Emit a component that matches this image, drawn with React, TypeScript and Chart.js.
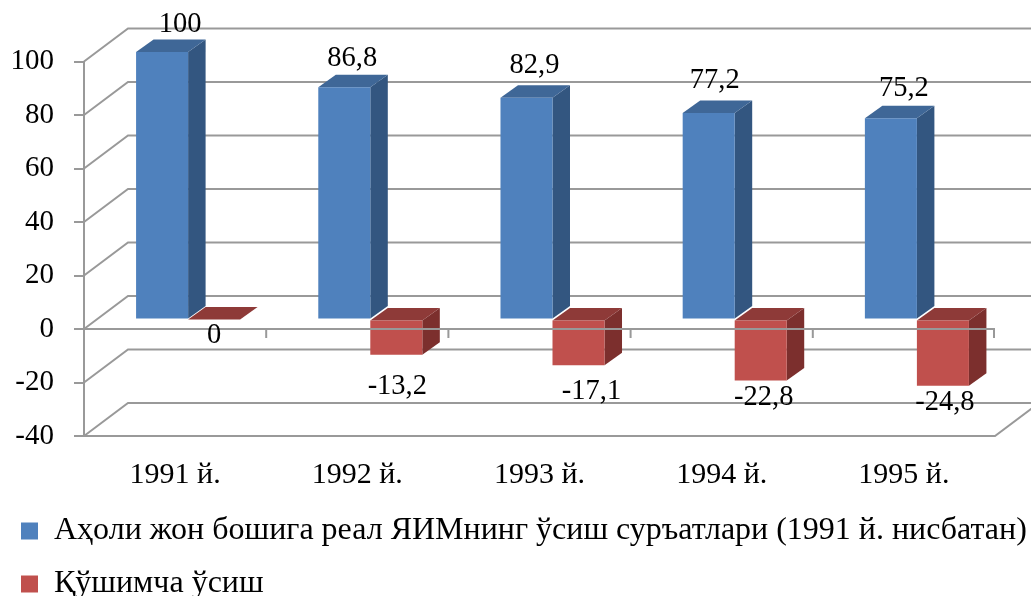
import React, { useEffect, useRef } from "react";
import { Chart, registerables } from "chart.js";

Chart.register(...registerables);

const categories = ["1991 й.", "1992 й.", "1993 й.", "1994 й.", "1995 й."];
const growthRates = [100, 86.8, 82.9, 77.2, 75.2];
const extraGrowth = [0, -13.2, -17.1, -22.8, -24.8];
const seriesNames = [
  "Аҳоли жон бошига реал ЯИМнинг ўсиш суръатлари (1991 й. нисбатан)",
  "Қўшимча ўсиш",
];
const growthLabelShift = [
  [18, -27],
  [8, -29],
  [8, -32],
  [6, -32],
  [13, -29.5],
];
const extraLabelShift = [
  [0, 16],
  [1, 32],
  [13, 26],
  [3, 17],
  [2, 17],
];

const FONT = "'Liberation Serif', serif";
const GRID = "#999999";
const PLANE_X = 13;
const PLANE_Y = -9.5;
const BAR_DX = 17.5;
const BAR_DY = -12.5;
const WALL_DX = 44;
const WALL_DY = -33;
const faces = [
  { side: "#335680", top: "#3f6797" },
  { side: "#7c2f2d", top: "#8e3a38" },
];

const wallPlugin = {
  id: "wall",
  beforeDatasetsDraw(chart: any) {
    const { ctx, chartArea, scales } = chart;
    ctx.save();
    ctx.strokeStyle = GRID;
    ctx.lineWidth = 2;
    scales.y.ticks.forEach((t: any) => {
      const y = scales.y.getPixelForValue(t.value);
      ctx.beginPath();
      ctx.moveTo(chartArea.left, y);
      ctx.lineTo(chartArea.left + WALL_DX, y + WALL_DY);
      ctx.lineTo(chartArea.right + WALL_DX, y + WALL_DY);
      ctx.stroke();
    });
    const b = chartArea.bottom;
    ctx.beginPath();
    ctx.moveTo(chartArea.left, b);
    ctx.lineTo(chartArea.right, b);
    ctx.lineTo(chartArea.right + WALL_DX, b + WALL_DY);
    ctx.stroke();
    ctx.restore();
  },
  beforeDatasetDraw(chart: any, args: any) {
    const { ctx } = chart;
    ctx.save();
    ctx.translate(PLANE_X, PLANE_Y);
    const f = faces[args.index];
    args.meta.data.forEach((bar: any) => {
      const l = bar.x - bar.width / 2;
      const r = bar.x + bar.width / 2;
      const t = Math.min(bar.y, bar.base);
      const u = Math.max(bar.y, bar.base);
      ctx.fillStyle = f.side;
      ctx.beginPath();
      ctx.moveTo(r, t);
      ctx.lineTo(r + BAR_DX, t + BAR_DY);
      ctx.lineTo(r + BAR_DX, u + BAR_DY);
      ctx.lineTo(r, u);
      ctx.closePath();
      ctx.fill();
      ctx.fillStyle = f.top;
      ctx.beginPath();
      ctx.moveTo(l, t);
      ctx.lineTo(l + BAR_DX, t + BAR_DY);
      ctx.lineTo(r + BAR_DX, t + BAR_DY);
      ctx.lineTo(r, t);
      ctx.closePath();
      ctx.fill();
    });
  },
  afterDatasetDraw(chart: any) {
    chart.ctx.restore();
  },
  afterDatasetsDraw(chart: any) {
    const { ctx, chartArea, scales } = chart;
    const zero = scales.y.getPixelForValue(0);
    ctx.save();
    ctx.strokeStyle = GRID;
    ctx.lineWidth = 2;
    ctx.beginPath();
    ctx.moveTo(chartArea.left, zero);
    ctx.lineTo(chartArea.right, zero);
    const step = chartArea.width / categories.length;
    for (let i = 0; i <= categories.length; i++) {
      const x = chartArea.left + i * step - (i === categories.length ? 1 : 0);
      ctx.moveTo(x, zero);
      ctx.lineTo(x, zero + 9);
    }
    ctx.stroke();

    ctx.fillStyle = "#000";
    ctx.font = `28.5px ${FONT}`;
    ctx.textAlign = "center";
    ctx.textBaseline = "middle";
    const text = (v: number) => String(v).replace(".", ",");
    chart.getDatasetMeta(0).data.forEach((bar: any, i: number) => {
      const [dx, dy] = growthLabelShift[i];
      ctx.fillText(text(growthRates[i]), bar.x + PLANE_X + dx, bar.y + PLANE_Y + dy);
    });
    chart.getDatasetMeta(1).data.forEach((bar: any, i: number) => {
      const [dx, dy] = extraLabelShift[i];
      ctx.fillText(text(extraGrowth[i]), bar.x + PLANE_X + dx, bar.y + PLANE_Y + dy);
    });
    ctx.restore();
  },
};

export default function App() {
  const ref = useRef<HTMLCanvasElement>(null);
  useEffect(() => {
    const chart = new Chart(ref.current as HTMLCanvasElement, {
      type: "bar",
      data: {
        labels: categories,
        datasets: [
          { label: seriesNames[0], data: growthRates, backgroundColor: "#4f81bd", borderWidth: 0, clip: false },
          { label: seriesNames[1], data: extraGrowth, backgroundColor: "#c0504d", borderWidth: 0, clip: false },
        ] as any,
      },
      options: {
        responsive: false,
        animation: false,
        categoryPercentage: 0.571,
        barPercentage: 1,
        layout: { padding: { top: 61.5, right: 0, bottom: -14, left: 0 } },
        plugins: {
          tooltip: { enabled: false },
          legend: {
            position: "bottom",
            align: "start",
            labels: {
              boxWidth: 17,
              boxHeight: 17,
              padding: 21,
              color: "#000",
              font: { family: FONT, size: 32 },
            },
          },
        },
        scales: {
          x: {
            afterFit: (s: any) => {
              s.height = 58;
            },
            grid: { display: false },
            border: { display: false },
            ticks: {
              color: "#000",
              padding: 13,
              maxRotation: 0,
              font: { family: FONT, size: 30 },
            },
          },
          y: {
            min: -40,
            max: 100,
            afterFit: (s: any) => {
              s.width = 84;
            },
            grid: { drawOnChartArea: false, color: GRID, lineWidth: 2, tickLength: 10 },
            border: { color: GRID, width: 2 },
            ticks: {
              stepSize: 20,
              color: "#000",
              padding: 20,
              font: { family: FONT, size: 29 },
            },
          },
          rightGap: {
            position: "right",
            min: -40,
            max: 100,
            afterFit: (s: any) => {
              s.width = 36;
            },
            grid: { display: false },
            border: { display: false },
            ticks: { display: false },
          },
        },
      } as any,
      plugins: [wallPlugin],
    });
    return () => chart.destroy();
  }, []);
  return (
    <div style={{ position: "fixed", left: 0, top: 0, width: 1031, height: 596, background: "#fff" }}>
      <canvas ref={ref} width={1031} height={596} style={{ display: "block" }} />
    </div>
  );
}
